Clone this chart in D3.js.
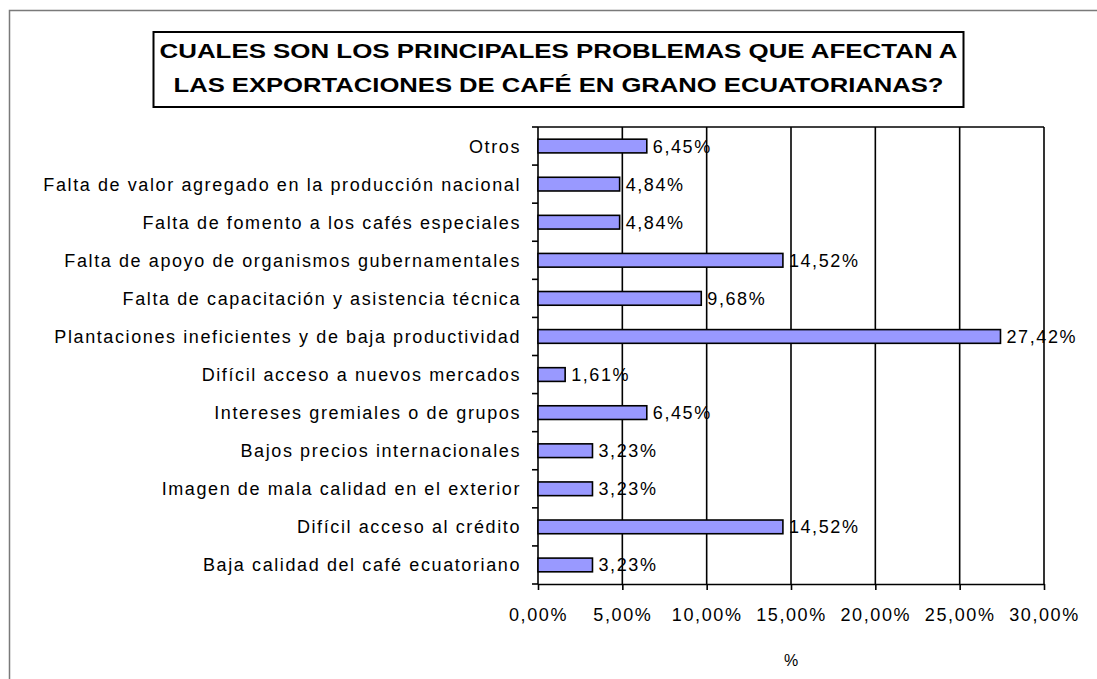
<!DOCTYPE html>
<html>
<head>
<meta charset="utf-8">
<script src="https://cdn.jsdelivr.net/npm/d3@7"></script>
<style>
  body { margin: 0; background: #fff; }
</style>
</head>
<body>
<div id="chart"></div>
<script>
let width = 1097;
let height = 679;

// data, top to bottom as in the picture
let categories = [
  "Otros",
  "Falta de valor agregado en la producción nacional",
  "Falta de fomento a los cafés especiales",
  "Falta de apoyo de organismos gubernamentales",
  "Falta de capacitación y asistencia técnica",
  "Plantaciones ineficientes y de baja productividad",
  "Difícil acceso a nuevos mercados",
  "Intereses gremiales o de grupos",
  "Bajos precios internacionales",
  "Imagen de mala calidad en el exterior",
  "Difícil acceso al crédito",
  "Baja calidad del café ecuatoriano"
];
let values = [6.45, 4.84, 4.84, 14.52, 9.68, 27.42, 1.61, 6.45, 3.23, 3.23, 14.52, 3.23];
let xTicks = [0, 5, 10, 15, 20, 25, 30];
let titleLines = [
  "CUALES SON LOS PRINCIPALES PROBLEMAS QUE AFECTAN A",
  "LAS EXPORTACIONES DE CAFÉ EN GRANO ECUATORIANAS?"
];
let axisTitle = "%";

let plot = { left: 538, right: 1044, top: 127, bottom: 584 };
let labelFont = "'Liberation Sans', Arial, sans-serif";
let labelSize = 18;
let labelSpacing = 1.6;

let es = d3.formatLocale({ decimal: ",", thousands: ".", grouping: [3], currency: ["", ""] });
let pct = v => es.format(".2f")(v) + "%";

let svg = d3.select("#chart")
  .append("svg")
  .attr("width", width)
  .attr("height", height)
  .style("display", "block");

// outer chart border (runs off the right and bottom of the picture)
svg.append("rect")
  .attr("x", 9.5)
  .attr("y", 10.5)
  .attr("width", width + 20)
  .attr("height", height + 20)
  .attr("fill", "none")
  .attr("stroke", "#7a7a7a")
  .attr("stroke-width", 1.5);

// title box
svg.append("rect")
  .attr("x", 153.5)
  .attr("y", 32)
  .attr("width", 810)
  .attr("height", 75)
  .attr("fill", "#fff")
  .attr("stroke", "#000")
  .attr("stroke-width", 2);

svg.append("g")
  .selectAll("text")
  .data(titleLines)
  .enter()
  .append("text")
  .attr("x", 558.5)
  .attr("y", (d, i) => 58 + i * 34)
  .attr("text-anchor", "middle")
  .attr("font-family", labelFont)
  .attr("font-size", 20)
  .attr("font-weight", "bold")
  .attr("fill", "#000")
  .attr("textLength", (d, i) => i == 0 ? 798 : 770)
  .attr("lengthAdjust", "spacingAndGlyphs")
  .text(d => d);

let x = d3.scaleLinear()
  .domain([0, 30])
  .range([plot.left, plot.right]);

let y = d3.scaleBand()
  .domain(categories)
  .range([plot.top, plot.bottom])
  .paddingInner(0.64)
  .paddingOuter(0.32);

let step = y.step();

// vertical gridlines
svg.append("g")
  .selectAll("line")
  .data(xTicks.slice(1))
  .enter()
  .append("line")
  .attr("x1", d => x(d))
  .attr("x2", d => x(d))
  .attr("y1", plot.top)
  .attr("y2", plot.bottom)
  .attr("stroke", "#000")
  .attr("stroke-width", 1.6);

// plot top border
svg.append("line")
  .attr("x1", plot.left)
  .attr("x2", plot.right)
  .attr("y1", plot.top)
  .attr("y2", plot.top)
  .attr("stroke", "#000")
  .attr("stroke-width", 1.6);

// bottom axis
let xAxis = svg.append("g")
  .attr("transform", `translate(0, ${plot.bottom})`)
  .call(d3.axisBottom(x).tickValues(xTicks).tickSize(6).tickSizeOuter(0).tickPadding(18).tickFormat(pct));
xAxis.select(".domain").attr("stroke", "#000").attr("stroke-width", 1.6);
xAxis.selectAll(".tick line").attr("stroke", "#000").attr("stroke-width", 1.6);
xAxis.selectAll("text")
  .attr("font-family", labelFont)
  .attr("font-size", labelSize)
  .attr("letter-spacing", labelSpacing)
  .attr("fill", "#000");

// left axis with ticks between categories
let bounds = d3.range(categories.length + 1).map(i => plot.top + i * step);
svg.append("line")
  .attr("x1", plot.left)
  .attr("x2", plot.left)
  .attr("y1", plot.top)
  .attr("y2", plot.bottom)
  .attr("stroke", "#000")
  .attr("stroke-width", 1.6);
svg.append("g")
  .selectAll("line")
  .data(bounds)
  .enter()
  .append("line")
  .attr("x1", plot.left - 6)
  .attr("x2", plot.left)
  .attr("y1", d => d)
  .attr("y2", d => d)
  .attr("stroke", "#000")
  .attr("stroke-width", 1.6);

// category labels
svg.append("g")
  .selectAll("text")
  .data(categories)
  .enter()
  .append("text")
  .attr("x", plot.left - 17)
  .attr("y", d => y(d) + y.bandwidth() / 2)
  .attr("dy", "0.36em")
  .attr("text-anchor", "end")
  .attr("font-family", labelFont)
  .attr("font-size", labelSize)
  .attr("letter-spacing", labelSpacing)
  .attr("fill", "#000")
  .text(d => d);

// bars
svg.append("g")
  .selectAll("rect")
  .data(values)
  .enter()
  .append("rect")
  .attr("x", x(0))
  .attr("y", (d, i) => y(categories[i]))
  .attr("width", d => x(d) - x(0))
  .attr("height", y.bandwidth())
  .attr("fill", "#9999ff")
  .attr("stroke", "#000")
  .attr("stroke-width", 1.6);

// value labels
svg.append("g")
  .selectAll("text")
  .data(values)
  .enter()
  .append("text")
  .attr("x", d => x(d) + 6)
  .attr("y", (d, i) => y(categories[i]) + y.bandwidth() / 2)
  .attr("dy", "0.36em")
  .attr("font-family", labelFont)
  .attr("font-size", labelSize)
  .attr("letter-spacing", labelSpacing)
  .attr("fill", "#000")
  .text(d => pct(d));

// axis title
svg.append("text")
  .attr("x", x(15))
  .attr("y", 666)
  .attr("text-anchor", "middle")
  .attr("font-family", labelFont)
  .attr("font-size", 16)
  .attr("fill", "#000")
  .text(axisTitle);
</script>
</body>
</html>
